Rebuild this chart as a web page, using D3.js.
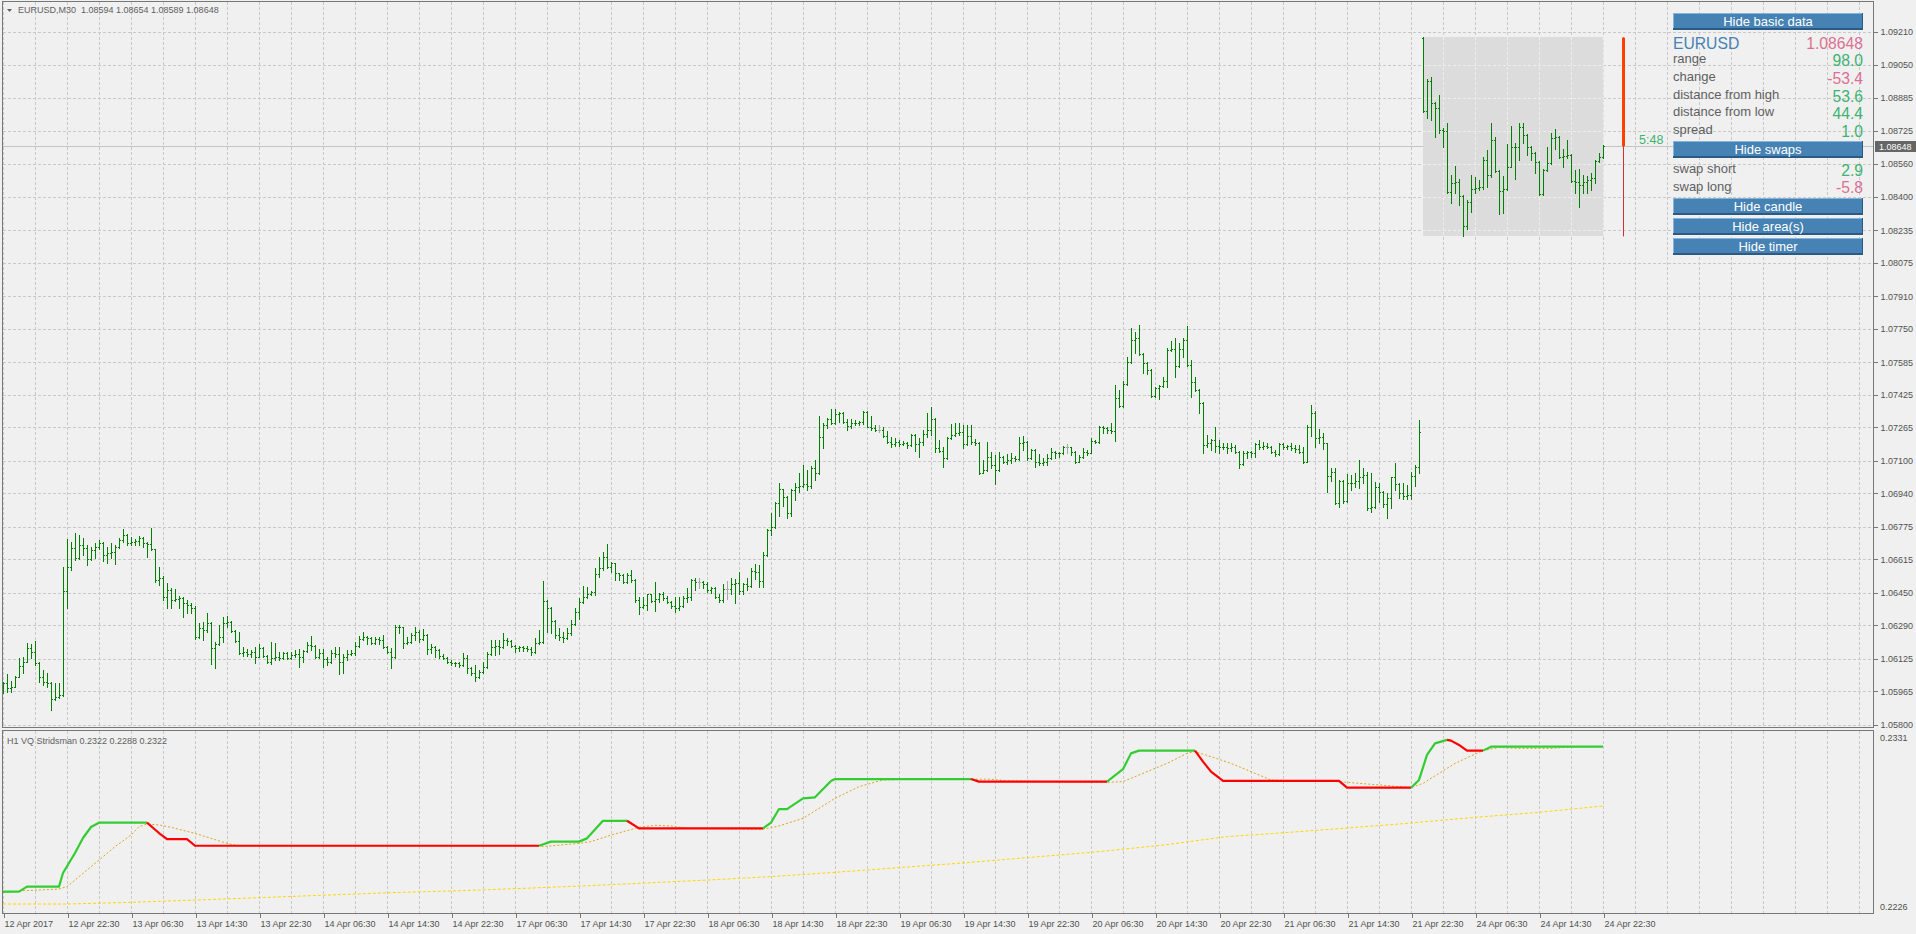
<!DOCTYPE html>
<html>
<head>
<meta charset="utf-8">
<script src="https://cdn.jsdelivr.net/npm/d3@7"></script>
<style>
html, body { margin: 0; padding: 0; background: #f0f0f0; overflow: hidden; }
svg { display: block; font-family: "Liberation Sans", Arial, sans-serif; }
</style>
</head>
<body>
<svg id="chart" width="1916" height="934"></svg>
<script>
// EURUSD M30 bars, [open, high, low, close], first bar = 12 Apr 2017 14:30
var symbol = "EURUSD", period = "M30";
var bars = [
[1.05995,1.06013,1.05959,1.06005],[1.06005,1.06051,1.05964,1.05980],[1.05980,1.06016,1.05964,1.05989],[1.05989,1.06041,1.05989,1.06038],
[1.06038,1.06128,1.06038,1.06090],[1.06090,1.06136,1.06057,1.06112],[1.06112,1.06205,1.06112,1.06177],[1.06177,1.06199,1.06128,1.06161],
[1.06161,1.06213,1.06095,1.06107],[1.06107,1.06108,1.06013,1.06038],[1.06038,1.06071,1.05997,1.06013],[1.06013,1.06054,1.05989,1.06008],
[1.06008,1.06012,1.05874,1.05926],[1.05926,1.06005,1.05923,1.05939],[1.05939,1.06005,1.05935,1.05948],[1.05948,1.06579,1.05945,1.06459],
[1.06459,1.06713,1.06374,1.06579],[1.06579,1.06702,1.06563,1.06672],[1.06672,1.06746,1.06612,1.06620],[1.06620,1.06735,1.06615,1.06686],
[1.06686,1.06718,1.06636,1.06669],[1.06669,1.06686,1.06587,1.06615],[1.06615,1.06677,1.06612,1.06661],[1.06661,1.06694,1.06620,1.06677],
[1.06677,1.06710,1.06664,1.06697],[1.06697,1.06702,1.06609,1.06636],[1.06636,1.06677,1.06595,1.06648],[1.06648,1.06694,1.06620,1.06653],
[1.06653,1.06686,1.06590,1.06677],[1.06677,1.06718,1.06672,1.06710],[1.06710,1.06764,1.06702,1.06735],[1.06735,1.06740,1.06686,1.06694],
[1.06694,1.06727,1.06686,1.06702],[1.06702,1.06713,1.06686,1.06707],[1.06707,1.06730,1.06686,1.06718],[1.06718,1.06727,1.06677,1.06694],
[1.06694,1.06699,1.06628,1.06689],[1.06689,1.06768,1.06661,1.06664],[1.06664,1.06668,1.06505,1.06513],[1.06513,1.06579,1.06489,1.06522],
[1.06522,1.06533,1.06415,1.06431],[1.06431,1.06497,1.06374,1.06464],[1.06464,1.06472,1.06374,1.06415],[1.06415,1.06467,1.06410,1.06418],
[1.06418,1.06435,1.06374,1.06423],[1.06423,1.06431,1.06333,1.06399],[1.06399,1.06415,1.06349,1.06390],[1.06390,1.06402,1.06349,1.06374],
[1.06374,1.06386,1.06221,1.06235],[1.06235,1.06300,1.06230,1.06276],[1.06276,1.06308,1.06218,1.06267],[1.06267,1.06349,1.06259,1.06300],
[1.06300,1.06305,1.06098,1.06177],[1.06177,1.06210,1.06079,1.06199],[1.06199,1.06292,1.06194,1.06235],[1.06235,1.06333,1.06210,1.06300],
[1.06300,1.06336,1.06284,1.06308],[1.06308,1.06312,1.06259,1.06262],[1.06262,1.06266,1.06210,1.06213],[1.06213,1.06256,1.06148,1.06153],
[1.06153,1.06185,1.06139,1.06161],[1.06161,1.06172,1.06139,1.06149],[1.06149,1.06169,1.06136,1.06161],[1.06161,1.06185,1.06107,1.06136],
[1.06136,1.06199,1.06133,1.06177],[1.06177,1.06185,1.06136,1.06139],[1.06139,1.06144,1.06103,1.06112],[1.06112,1.06208,1.06100,1.06128],
[1.06128,1.06202,1.06120,1.06136],[1.06136,1.06161,1.06120,1.06128],[1.06128,1.06161,1.06123,1.06153],[1.06153,1.06161,1.06123,1.06128],
[1.06128,1.06161,1.06125,1.06144],[1.06144,1.06169,1.06136,1.06149],[1.06149,1.06172,1.06087,1.06136],[1.06136,1.06169,1.06112,1.06166],
[1.06166,1.06210,1.06161,1.06194],[1.06194,1.06238,1.06169,1.06189],[1.06189,1.06192,1.06128,1.06136],[1.06136,1.06172,1.06131,1.06153],
[1.06153,1.06172,1.06087,1.06123],[1.06123,1.06136,1.06095,1.06112],[1.06112,1.06169,1.06103,1.06153],[1.06153,1.06182,1.06136,1.06149],
[1.06149,1.06182,1.06049,1.06112],[1.06112,1.06149,1.06057,1.06136],[1.06136,1.06169,1.06120,1.06149],[1.06149,1.06169,1.06144,1.06156],
[1.06156,1.06210,1.06144,1.06189],[1.06189,1.06238,1.06185,1.06221],[1.06221,1.06259,1.06218,1.06235],[1.06235,1.06238,1.06199,1.06226],
[1.06226,1.06235,1.06199,1.06205],[1.06205,1.06231,1.06199,1.06221],[1.06221,1.06235,1.06199,1.06218],[1.06218,1.06243,1.06177,1.06185],
[1.06185,1.06190,1.06156,1.06161],[1.06161,1.06177,1.06079,1.06133],[1.06133,1.06292,1.06128,1.06284],[1.06284,1.06292,1.06254,1.06280],
[1.06280,1.06284,1.06177,1.06202],[1.06202,1.06235,1.06197,1.06210],[1.06210,1.06251,1.06205,1.06243],[1.06243,1.06280,1.06218,1.06259],
[1.06259,1.06267,1.06210,1.06221],[1.06221,1.06271,1.06216,1.06243],[1.06243,1.06248,1.06149,1.06174],[1.06174,1.06199,1.06153,1.06185],
[1.06185,1.06190,1.06136,1.06169],[1.06169,1.06174,1.06128,1.06139],[1.06139,1.06149,1.06123,1.06128],[1.06128,1.06136,1.06107,1.06112],
[1.06112,1.06120,1.06095,1.06107],[1.06107,1.06112,1.06090,1.06103],[1.06103,1.06112,1.06087,1.06097],[1.06097,1.06156,1.06090,1.06128],
[1.06128,1.06144,1.06057,1.06079],[1.06079,1.06084,1.06046,1.06054],[1.06054,1.06095,1.06018,1.06038],[1.06038,1.06071,1.06030,1.06062],
[1.06062,1.06112,1.06058,1.06087],[1.06087,1.06161,1.06082,1.06149],[1.06149,1.06218,1.06144,1.06185],[1.06185,1.06218,1.06144,1.06189],
[1.06189,1.06218,1.06149,1.06185],[1.06185,1.06251,1.06180,1.06218],[1.06218,1.06226,1.06194,1.06212],[1.06212,1.06218,1.06185,1.06189],
[1.06189,1.06194,1.06161,1.06177],[1.06177,1.06189,1.06166,1.06182],[1.06182,1.06189,1.06166,1.06177],[1.06177,1.06189,1.06166,1.06172],
[1.06172,1.06185,1.06144,1.06161],[1.06161,1.06226,1.06153,1.06202],[1.06202,1.06267,1.06197,1.06210],[1.06210,1.06508,1.06202,1.06410],
[1.06410,1.06415,1.06259,1.06374],[1.06374,1.06380,1.06251,1.06313],[1.06313,1.06318,1.06226,1.06242],[1.06242,1.06275,1.06218,1.06234],
[1.06234,1.06259,1.06210,1.06226],[1.06226,1.06275,1.06222,1.06251],[1.06251,1.06316,1.06242,1.06295],[1.06295,1.06374,1.06292,1.06354],
[1.06354,1.06423,1.06324,1.06406],[1.06406,1.06484,1.06400,1.06431],[1.06431,1.06477,1.06423,1.06447],[1.06447,1.06460,1.06439,1.06454],
[1.06454,1.06571,1.06439,1.06543],[1.06543,1.06628,1.06529,1.06575],[1.06575,1.06652,1.06562,1.06628],[1.06628,1.06693,1.06571,1.06576],
[1.06576,1.06603,1.06554,1.06595],[1.06595,1.06597,1.06513,1.06546],[1.06546,1.06549,1.06513,1.06538],[1.06538,1.06542,1.06500,1.06505],
[1.06505,1.06546,1.06500,1.06538],[1.06538,1.06565,1.06505,1.06513],[1.06513,1.06518,1.06406,1.06415],[1.06415,1.06431,1.06344,1.06382],
[1.06382,1.06431,1.06374,1.06390],[1.06390,1.06447,1.06365,1.06444],[1.06444,1.06447,1.06406,1.06411],[1.06411,1.06505,1.06362,1.06418],
[1.06418,1.06450,1.06406,1.06445],[1.06445,1.06452,1.06415,1.06423],[1.06423,1.06434,1.06398,1.06406],[1.06406,1.06410,1.06374,1.06385],
[1.06385,1.06431,1.06357,1.06374],[1.06374,1.06431,1.06365,1.06385],[1.06385,1.06434,1.06382,1.06423],[1.06423,1.06472,1.06406,1.06431],
[1.06431,1.06516,1.06415,1.06513],[1.06513,1.06521,1.06464,1.06505],[1.06505,1.06521,1.06472,1.06505],[1.06505,1.06510,1.06472,1.06493],
[1.06493,1.06505,1.06456,1.06464],[1.06464,1.06480,1.06451,1.06472],[1.06472,1.06480,1.06423,1.06431],[1.06431,1.06447,1.06406,1.06415],
[1.06415,1.06493,1.06406,1.06467],[1.06467,1.06510,1.06418,1.06467],[1.06467,1.06521,1.06447,1.06493],[1.06493,1.06516,1.06401,1.06497],
[1.06497,1.06554,1.06447,1.06460],[1.06460,1.06500,1.06447,1.06493],[1.06493,1.06521,1.06464,1.06484],[1.06484,1.06575,1.06480,1.06559],
[1.06559,1.06592,1.06516,1.06554],[1.06554,1.06587,1.06480,1.06510],[1.06510,1.06652,1.06480,1.06636],[1.06636,1.06765,1.06630,1.06758],
[1.06758,1.06844,1.06734,1.06772],[1.06772,1.06898,1.06770,1.06890],[1.06890,1.06992,1.06828,1.06959],[1.06959,1.06962,1.06877,1.06923],
[1.06923,1.06928,1.06821,1.06841],[1.06841,1.06962,1.06828,1.06956],[1.06956,1.06989,1.06907,1.06972],[1.06972,1.07041,1.06948,1.06976],
[1.06976,1.07079,1.06972,1.06985],[1.06985,1.07057,1.06956,1.06976],[1.06976,1.07074,1.06964,1.07067],[1.07067,1.07103,1.07008,1.07038],
[1.07038,1.07320,1.07033,1.07215],[1.07215,1.07284,1.07161,1.07276],[1.07276,1.07313,1.07259,1.07304],[1.07304,1.07353,1.07281,1.07287],
[1.07287,1.07353,1.07281,1.07330],[1.07330,1.07341,1.07292,1.07333],[1.07333,1.07338,1.07287,1.07292],[1.07292,1.07308,1.07254,1.07271],
[1.07271,1.07308,1.07259,1.07287],[1.07287,1.07300,1.07276,1.07284],[1.07284,1.07297,1.07276,1.07289],[1.07289,1.07346,1.07281,1.07341],
[1.07341,1.07346,1.07264,1.07267],[1.07267,1.07320,1.07254,1.07259],[1.07259,1.07276,1.07248,1.07251],[1.07251,1.07276,1.07243,1.07251],
[1.07251,1.07267,1.07218,1.07221],[1.07221,1.07248,1.07189,1.07194],[1.07194,1.07215,1.07169,1.07185],[1.07185,1.07210,1.07172,1.07194],
[1.07194,1.07202,1.07172,1.07182],[1.07182,1.07199,1.07177,1.07187],[1.07187,1.07194,1.07161,1.07177],[1.07177,1.07231,1.07172,1.07226],
[1.07226,1.07231,1.07149,1.07185],[1.07185,1.07210,1.07120,1.07194],[1.07194,1.07254,1.07177,1.07231],[1.07231,1.07336,1.07218,1.07251],
[1.07251,1.07366,1.07226,1.07304],[1.07304,1.07310,1.07144,1.07161],[1.07161,1.07202,1.07144,1.07149],[1.07149,1.07169,1.07071,1.07112],
[1.07112,1.07215,1.07107,1.07210],[1.07210,1.07281,1.07205,1.07226],[1.07226,1.07287,1.07221,1.07235],[1.07235,1.07287,1.07226,1.07240],
[1.07240,1.07276,1.07161,1.07182],[1.07182,1.07276,1.07177,1.07221],[1.07221,1.07276,1.07185,1.07194],[1.07194,1.07205,1.07177,1.07189],
[1.07189,1.07194,1.07034,1.07041],[1.07041,1.07103,1.07038,1.07054],[1.07054,1.07194,1.07050,1.07120],[1.07120,1.07144,1.07067,1.07079],
[1.07079,1.07128,1.06985,1.07057],[1.07057,1.07144,1.07052,1.07117],[1.07117,1.07123,1.07090,1.07095],[1.07095,1.07133,1.07084,1.07103],
[1.07103,1.07136,1.07087,1.07112],[1.07112,1.07125,1.07101,1.07107],[1.07107,1.07216,1.07104,1.07189],[1.07189,1.07222,1.07153,1.07194],
[1.07194,1.07197,1.07104,1.07112],[1.07112,1.07156,1.07108,1.07153],[1.07153,1.07158,1.07068,1.07096],[1.07096,1.07134,1.07079,1.07088],
[1.07088,1.07112,1.07079,1.07096],[1.07096,1.07134,1.07079,1.07112],[1.07112,1.07161,1.07108,1.07145],[1.07145,1.07150,1.07112,1.07140],
[1.07140,1.07145,1.07120,1.07137],[1.07137,1.07173,1.07134,1.07166],[1.07166,1.07183,1.07140,1.07166],[1.07166,1.07170,1.07129,1.07145],
[1.07145,1.07150,1.07088,1.07096],[1.07096,1.07129,1.07092,1.07120],[1.07120,1.07161,1.07116,1.07145],[1.07145,1.07153,1.07129,1.07140],
[1.07140,1.07211,1.07136,1.07199],[1.07199,1.07202,1.07186,1.07194],[1.07194,1.07271,1.07186,1.07265],[1.07265,1.07271,1.07238,1.07260],
[1.07260,1.07268,1.07238,1.07252],[1.07252,1.07284,1.07238,1.07247],[1.07247,1.07473,1.07199,1.07407],[1.07407,1.07448,1.07363,1.07370],
[1.07370,1.07494,1.07366,1.07478],[1.07478,1.07612,1.07473,1.07588],[1.07588,1.07752,1.07583,1.07694],[1.07694,1.07735,1.07632,1.07703],
[1.07703,1.07768,1.07621,1.07626],[1.07626,1.07632,1.07530,1.07580],[1.07580,1.07585,1.07527,1.07547],[1.07547,1.07552,1.07416,1.07420],
[1.07420,1.07465,1.07412,1.07457],[1.07457,1.07473,1.07402,1.07468],[1.07468,1.07514,1.07465,1.07494],[1.07494,1.07653,1.07465,1.07645],
[1.07645,1.07691,1.07642,1.07648],[1.07648,1.07703,1.07514,1.07566],[1.07566,1.07678,1.07563,1.07648],[1.07648,1.07703,1.07612,1.07694],
[1.07694,1.07763,1.07566,1.07570],[1.07570,1.07596,1.07416,1.07489],[1.07489,1.07514,1.07445,1.07448],[1.07448,1.07453,1.07337,1.07386],
[1.07386,1.07391,1.07140,1.07178],[1.07178,1.07227,1.07166,1.07186],[1.07186,1.07206,1.07153,1.07202],[1.07202,1.07265,1.07145,1.07173],
[1.07173,1.07202,1.07140,1.07166],[1.07166,1.07189,1.07156,1.07170],[1.07170,1.07186,1.07137,1.07161],[1.07161,1.07189,1.07150,1.07166],
[1.07166,1.07178,1.07137,1.07145],[1.07145,1.07150,1.07063,1.07084],[1.07084,1.07150,1.07079,1.07140],[1.07140,1.07150,1.07112,1.07145],
[1.07145,1.07150,1.07117,1.07137],[1.07137,1.07186,1.07117,1.07183],[1.07183,1.07202,1.07156,1.07170],[1.07170,1.07194,1.07156,1.07173],
[1.07173,1.07186,1.07161,1.07170],[1.07170,1.07175,1.07137,1.07145],[1.07145,1.07153,1.07124,1.07134],[1.07134,1.07189,1.07129,1.07183],
[1.07183,1.07189,1.07156,1.07166],[1.07166,1.07178,1.07156,1.07173],[1.07173,1.07189,1.07153,1.07161],[1.07161,1.07178,1.07145,1.07156],
[1.07156,1.07178,1.07140,1.07145],[1.07145,1.07170,1.07091,1.07096],[1.07096,1.07276,1.07092,1.07268],[1.07268,1.07375,1.07222,1.07337],
[1.07337,1.07347,1.07166,1.07211],[1.07211,1.07255,1.07189,1.07219],[1.07219,1.07235,1.07156,1.07186],[1.07186,1.07189,1.06948,1.07025],
[1.07025,1.07063,1.07002,1.07047],[1.07047,1.07063,1.06887,1.06894],[1.06894,1.07006,1.06871,1.07002],[1.07002,1.07006,1.06894,1.06904],
[1.06904,1.07035,1.06899,1.06989],[1.06989,1.07030,1.06956,1.06992],[1.06992,1.07038,1.06973,1.07002],[1.07002,1.07104,1.06965,1.07022],
[1.07022,1.07063,1.06989,1.07030],[1.07030,1.07047,1.06858,1.06866],[1.06866,1.07042,1.06850,1.06871],[1.06871,1.06997,1.06868,1.06970],
[1.06970,1.06989,1.06899,1.06948],[1.06948,1.06953,1.06874,1.06887],[1.06887,1.06940,1.06817,1.06915],[1.06915,1.07022,1.06866,1.07020],
[1.07020,1.07091,1.06956,1.06986],[1.06986,1.06992,1.06915,1.06940],[1.06940,1.06989,1.06910,1.06927],[1.06927,1.06981,1.06910,1.06932],
[1.06932,1.07047,1.06910,1.07025],[1.07025,1.07079,1.06976,1.07071],[1.07071,1.07301,1.07038,1.07243],
[1.09182,1.09184,1.08815,1.08822],[1.08822,1.08977,1.08785,1.08969],[1.08969,1.08987,1.08777,1.08859],[1.08859,1.08867,1.08692,1.08834],
[1.08834,1.08900,1.08711,1.08728],[1.08728,1.08736,1.08642,1.08722],[1.08722,1.08761,1.08419,1.08424],[1.08424,1.08506,1.08367,1.08465],
[1.08465,1.08551,1.08416,1.08470],[1.08470,1.08485,1.08359,1.08403],[1.08403,1.08408,1.08204,1.08256],[1.08256,1.08383,1.08239,1.08375],
[1.08375,1.08506,1.08326,1.08436],[1.08436,1.08498,1.08416,1.08440],[1.08440,1.08482,1.08433,1.08445],[1.08445,1.08597,1.08436,1.08580],
[1.08580,1.08629,1.08449,1.08506],[1.08506,1.08764,1.08498,1.08679],[1.08679,1.08692,1.08523,1.08528],[1.08528,1.08531,1.08315,1.08429],
[1.08429,1.08502,1.08321,1.08436],[1.08436,1.08659,1.08432,1.08547],[1.08547,1.08747,1.08544,1.08646],[1.08646,1.08665,1.08485,1.08642],
[1.08642,1.08764,1.08580,1.08741],[1.08741,1.08764,1.08662,1.08703],[1.08703,1.08708,1.08605,1.08646],[1.08646,1.08649,1.08580,1.08616],
[1.08616,1.08621,1.08515,1.08572],[1.08572,1.08576,1.08408,1.08413],[1.08413,1.08535,1.08408,1.08531],[1.08531,1.08646,1.08528,1.08567],
[1.08567,1.08715,1.08562,1.08687],[1.08687,1.08731,1.08633,1.08692],[1.08692,1.08698,1.08588,1.08597],[1.08597,1.08633,1.08544,1.08600],
[1.08600,1.08679,1.08588,1.08605],[1.08605,1.08610,1.08474,1.08479],[1.08479,1.08531,1.08419,1.08474],[1.08474,1.08535,1.08347,1.08457],
[1.08457,1.08506,1.08419,1.08474],[1.08474,1.08502,1.08419,1.08482],[1.08482,1.08515,1.08433,1.08490],[1.08490,1.08580,1.08469,1.08577],
[1.08577,1.08616,1.08572,1.08594],[1.08594,1.08654,1.08589,1.08648]
];
var dayFirstBar = 355;   // 24 Apr 00:00
var candleBar = 405;     // where the day candle is drawn

var timeLabels = ["12 Apr 2017","12 Apr 22:30","13 Apr 06:30","13 Apr 14:30","13 Apr 22:30","14 Apr 06:30",
  "14 Apr 14:30","14 Apr 22:30","17 Apr 06:30","17 Apr 14:30","17 Apr 22:30","18 Apr 06:30","18 Apr 14:30",
  "18 Apr 22:30","19 Apr 06:30","19 Apr 14:30","19 Apr 22:30","20 Apr 06:30","20 Apr 14:30","20 Apr 22:30",
  "21 Apr 06:30","21 Apr 14:30","21 Apr 22:30","24 Apr 06:30","24 Apr 14:30","24 Apr 22:30"];
var priceTicks = [1.09210,1.09050,1.08885,1.08725,1.08560,1.08400,1.08235,1.08075,1.07910,1.07750,1.07585,
  1.07425,1.07265,1.07100,1.06940,1.06775,1.06615,1.06450,1.06290,1.06125,1.05965,1.05800];

// H1 VQ Stridsman: main line (green up / red down), signal, slow line
var stridsIdx = [0,4,6,14,15,18,20,22,24,36,39,41,46,48,134,137,144,146,150,156,159,190,192,194,196,200,203,207,208,242,
  244,276,280,282,284,298,300,302,305,334,336,352,354,356,358,361,362,364,366,370,372,400];
var stridsVal = [0.22384,0.22384,0.22413,0.22413,0.22492,0.22608,0.22695,0.22759,0.22784,0.22784,
  0.22724,0.22689,0.22689,0.22650,0.22650,0.22674,0.22674,0.22693,0.22795,0.22795,0.22751,0.22751,
  0.22784,0.22863,0.22863,0.22925,0.22931,0.23026,0.23037,0.23037,0.23022,0.23022,0.23094,0.23186,0.23202,0.23202,
  0.23138,0.23080,0.23027,0.23026,0.22987,0.22987,0.23032,0.23177,0.23244,0.23264,0.23260,0.23235,0.23202,0.23202,
  0.23225,0.23225];
var stridsUp = [1,1,1,1,1,1,1,1,1,1, 0,0,0,0,0, 1,1,1,1,1, 0,0, 1,1,1,1,1,1,1,1, 0,0, 1,1,1,1,
  0,0,0,0,0,0, 1,1,1,1, 0,0,0,0, 1,1];
var signalIdx = [0,5,14,16,20,24,28,32,34,36,39,42,48,52,56,59,134,135,144,147,152,159,163,167,171,190,194,200,204,208,
  214,220,229,247,251,262,276,280,285,291,296,298,302,307,312,317,324,334,336,344,349,352,355,359,363,367,370,374,379,387,392,400];
var signalVal = [0.22378,0.22389,0.22399,0.22413,0.22490,0.22567,0.22645,0.22712,0.22761,0.22776,
  0.22771,0.22757,0.22722,0.22693,0.22664,0.22650,0.22650,0.22645,0.22664,0.22674,
  0.22712,0.22757,0.22769,0.22765,0.22751,0.22746,0.22765,0.22809,0.22867,0.22925,
  0.22993,0.23032,0.23037,0.23036,0.23027,0.23022,0.23018,0.23022,0.23070,0.23128,
  0.23186,0.23196,0.23167,0.23128,0.23080,0.23032,0.23026,0.23022,0.23018,0.23003,
  0.22993,0.22987,0.23012,0.23070,0.23128,0.23171,0.23202,0.23220,0.23215,0.23215,0.23223,0.23225];
var slowIdx = [0,16,32,48,64,81,97,114,130,146,159,176,192,208,225,241,257,274,290,306,318,335,351,367,384,400];
var slowVal = [0.22312,0.22312,0.22322,0.22335,0.22349,0.22364,0.22378,0.22389,0.22403,0.22418,0.22432,0.22451,
  0.22471,0.22496,0.22525,0.22552,0.22583,0.22616,0.22654,0.22703,0.22722,0.22751,0.22780,0.22813,0.22844,0.22881];
var indName = "H1 VQ Stridsman";
var indLast = ["0.2322","0.2288","0.2322"];
var indTicks = [0.2331, 0.2226];

// info panel
var buttonLabels = ["Hide basic data","Hide swaps","Hide candle","Hide area(s)","Hide timer"];
var infoLabels = ["range","change","distance from high","distance from low","spread"];
var infoValues = ["98.0","-53.4","53.6","44.4","1.0"];
var swapLabels = ["swap short","swap long"];
var swapValues = ["2.9","-5.8"];
var timerText = "5:48";

var svg = d3.select("#chart");
var W = 1916,
    left = 2, right = 1873,
    mainTop = 2, mainBottom = 727,
    indTop = 730, indBottom = 913;

var x = d3.scaleLinear().domain([0, 400]).range([3, 1603]);
var y = d3.scaleLinear().domain([1.05800, 1.09210]).range([725, 32]);
var yi = d3.scaleLinear().domain([0.2226, 0.2331]).range([913, 732]);

var green = "#3cb371", pink = "#db7093", txt = "#505050";

svg.append("rect").attr("width", W).attr("height", 934).attr("fill", "#f0f0f0");

var last = bars[bars.length - 1];
var dayBars = bars.slice(dayFirstBar);
var dayHigh = d3.max(dayBars, function(d) { return d[1]; });
var dayLow = d3.min(dayBars, function(d) { return d[2]; });
var dayOpen = dayBars[0][0];

// current price line
svg.append("line")
    .attr("x1", left + 1).attr("x2", right)
    .attr("y1", Math.round(y(last[3])) + 0.5).attr("y2", Math.round(y(last[3])) + 0.5)
    .attr("stroke", "#c4c4c4").attr("shape-rendering", "crispEdges");

// day area box
var boxX = Math.round(x(dayFirstBar)), boxW = Math.round(x(400)) + 1 - boxX,
    boxY = Math.round(y(dayHigh)), boxH = Math.round(y(dayLow)) - boxY;
svg.append("rect").attr("x", boxX).attr("y", boxY).attr("width", boxW).attr("height", boxH)
    .attr("fill", "#dcdcdc");
svg.append("clipPath").attr("id", "boxclip").append("rect")
    .attr("x", boxX).attr("y", boxY).attr("width", boxW).attr("height", boxH);

function drawGrid(g, color) {
    var vIdx = d3.range(0, 470, 8).filter(function(i) { return x(i) < right; });
    g.selectAll("line.v").data(vIdx).join("line")
	.attr("x1", function(i) { return Math.round(x(i)) + 0.5; })
	.attr("x2", function(i) { return Math.round(x(i)) + 0.5; })
	.attr("y1", mainTop).attr("y2", mainBottom);
    g.selectAll("line.vi").data(vIdx).join("line")
	.attr("x1", function(i) { return Math.round(x(i)) + 0.5; })
	.attr("x2", function(i) { return Math.round(x(i)) + 0.5; })
	.attr("y1", indTop + 1).attr("y2", indBottom);
    g.selectAll("line.h").data(priceTicks).join("line")
	.attr("x1", left + 1).attr("x2", right)
	.attr("y1", function(d) { return Math.round(y(d)) + 0.5; })
	.attr("y2", function(d) { return Math.round(y(d)) + 0.5; });
    g.selectAll("line")
	.attr("stroke", color).attr("stroke-dasharray", "3,2").attr("shape-rendering", "crispEdges");
}
var grid = svg.append("g");
drawGrid(grid, "#c9c9c9");
var grid2 = svg.append("g").attr("clip-path", "url(#boxclip)");
drawGrid(grid2, "#ededed");

// OHLC bars
svg.append("g").selectAll("path").data(bars).join("path")
    .attr("d", function(d, i) {
	var xi = Math.round(x(i)),
	    yo = Math.round(y(d[0])), yh = Math.round(y(d[1])),
	    yl = Math.round(y(d[2])), yc = Math.round(y(d[3]));
	return "M" + (xi + 0.5) + "," + yh + "V" + (yl + 1) +
	    "M" + (xi - 1) + "," + (yo + 0.5) + "H" + xi +
	    "M" + (xi + 1) + "," + (yc + 0.5) + "H" + (xi + 2);
    })
    .attr("fill", "none")
    .attr("stroke", function(d) { return d[0] === d[3] ? "#a8a8a8" : "#007f00"; })
    .attr("shape-rendering", "crispEdges");

// day candle
var cx = Math.round(x(candleBar));
svg.append("line").attr("x1", cx + 0.5).attr("x2", cx + 0.5)
    .attr("y1", y(dayHigh)).attr("y2", y(dayLow))
    .attr("stroke", "#d23030").attr("stroke-width", 1);
svg.append("rect").attr("x", cx - 1).attr("width", 3)
    .attr("y", y(dayOpen)).attr("height", y(last[3]) - y(dayOpen))
    .attr("fill", last[3] < dayOpen ? "#ff4000" : "#32cd32");
svg.append("text").attr("x", cx + 16).attr("y", y(last[3]) - 2)
    .attr("font-size", 12.5).attr("fill", green).text(timerText);

// indicator lines
var lineI = d3.line()
    .x(function(d) { return x(d[0]); })
    .y(function(d) { return yi(d[1]); });
svg.append("path")
    .datum(slowIdx.map(function(i, k) { return [i, slowVal[k]]; }))
    .attr("fill", "none").attr("stroke", "#ffd700").attr("stroke-width", 1)
    .attr("stroke-dasharray", "3,2").attr("d", lineI);
svg.append("path")
    .datum(signalIdx.map(function(i, k) { return [i, signalVal[k]]; }))
    .attr("fill", "none").attr("stroke", "#daa520").attr("stroke-width", 1)
    .attr("stroke-dasharray", "2,2").attr("d", lineI);

var runs = [];
for (var k = 1; k < stridsIdx.length; k++) {
    var pt = [stridsIdx[k], stridsVal[k]];
    var lastRun = runs[runs.length - 1];
    if (lastRun && lastRun.up === stridsUp[k]) lastRun.pts.push(pt);
    else runs.push({ up: stridsUp[k], pts: [[stridsIdx[k - 1], stridsVal[k - 1]], pt] });
}
svg.append("g").selectAll("path").data(runs).join("path")
    .attr("fill", "none")
    .attr("stroke", function(r) { return r.up ? "#32cd32" : "#ff0000"; })
    .attr("stroke-width", 2.2)
    .attr("stroke-linejoin", "round")
    .attr("d", function(r) { return lineI(r.pts); });

// frames
svg.append("rect").attr("x", left + 0.5).attr("y", mainTop - 0.5)
    .attr("width", right - left).attr("height", mainBottom - mainTop + 1)
    .attr("fill", "none").attr("stroke", "#777").attr("shape-rendering", "crispEdges");
svg.append("rect").attr("x", left + 0.5).attr("y", indTop + 0.5)
    .attr("width", right - left).attr("height", indBottom - indTop)
    .attr("fill", "none").attr("stroke", "#777").attr("shape-rendering", "crispEdges");

// price axis
var yAxis = svg.append("g")
    .attr("transform", "translate(" + (right + 0.5) + ",0)")
    .call(d3.axisRight(y).tickValues(priceTicks).tickFormat(d3.format(".5f")).tickSize(4).tickPadding(3));
yAxis.select(".domain").remove();
yAxis.selectAll("line").attr("stroke", "#777").attr("shape-rendering", "crispEdges");
yAxis.selectAll("text").attr("fill", txt).attr("font-size", 9).attr("font-family", "Liberation Sans, Arial, sans-serif");

// current price label
var py = Math.round(y(last[3]));
svg.append("rect").attr("x", right + 2).attr("y", py - 5).attr("width", W - right - 2).attr("height", 11)
    .attr("fill", "#666");
svg.append("text").attr("x", right + 6).attr("y", py + 3.5)
    .attr("font-size", 9).attr("fill", "#fff").text(last[3].toFixed(5));

// indicator axis labels
svg.append("g").selectAll("text").data(indTicks).join("text")
    .attr("x", right + 7)
    .attr("y", function(d, i) { return i === 0 ? yi(d) + 9 : yi(d) - 3; })
    .attr("font-size", 9).attr("fill", txt)
    .text(function(d) { return d.toFixed(4); });

// time axis
var xAxis = svg.append("g")
    .attr("transform", "translate(0," + (indBottom + 0.5) + ")")
    .call(d3.axisBottom(x).tickValues(d3.range(0, 401, 16))
	  .tickFormat(function(d, i) { return timeLabels[i]; }).tickSize(4).tickPadding(3));
xAxis.select(".domain").remove();
xAxis.selectAll("line").attr("stroke", "#777").attr("transform", "translate(0.5,0)")
    .attr("shape-rendering", "crispEdges");
xAxis.selectAll("text").attr("fill", txt).attr("font-size", 9)
    .attr("font-family", "Liberation Sans, Arial, sans-serif")
    .attr("text-anchor", "start").attr("x", 1);

// header and indicator name
svg.append("path").attr("d", "M7,9L12,9L9.5,12Z").attr("fill", "#606060");
svg.append("text").attr("x", 18).attr("y", 13).attr("font-size", 9).attr("fill", "#606060")
    .style("white-space", "pre")
    .text(symbol + "," + period + "  " + last.map(function(v) { return v.toFixed(5); }).join(" "));
svg.append("text").attr("x", 7).attr("y", 744).attr("font-size", 9).attr("fill", "#606060")
    .text(indName + " " + indLast.join(" "));

// info panel
var px0 = 1673, px1 = 1863;
var buttonTops = [13, 141, 198, 218, 238];
var btn = svg.append("g").selectAll("g").data(buttonLabels).join("g")
    .attr("transform", function(d, i) { return "translate(" + px0 + "," + buttonTops[i] + ")"; });
btn.append("rect").attr("width", px1 - px0).attr("height", 17).attr("fill", "#4682b4");
btn.append("rect").attr("width", px1 - px0).attr("height", 1).attr("fill", "#86b3dc");
btn.append("rect").attr("width", 1).attr("height", 17).attr("fill", "#86b3dc");
btn.append("rect").attr("y", 15).attr("width", px1 - px0).attr("height", 2).attr("fill", "#2b5a85");
btn.append("rect").attr("x", px1 - px0 - 1).attr("width", 1).attr("height", 17).attr("fill", "#2b5a85");
btn.append("text").attr("x", (px1 - px0) / 2).attr("y", 13).attr("text-anchor", "middle")
    .attr("font-size", 13).attr("fill", "#fff").text(function(d) { return d; });

svg.append("text").attr("x", px0).attr("y", 48.5).attr("font-size", 15.7).attr("fill", "#4682b4").text(symbol);
svg.append("text").attr("x", px1).attr("y", 48.5).attr("font-size", 15.7).attr("fill", pink)
    .attr("text-anchor", "end").text(last[3].toFixed(5));

function infoRows(labels, values, y0) {
    var g = svg.append("g");
    g.selectAll("text.l").data(labels).join("text")
	.attr("x", px0).attr("y", function(d, i) { return y0 + i * 17.7; })
	.attr("font-size", 13).attr("fill", "#5f5f5f").text(function(d) { return d; });
    g.selectAll("text.v").data(values).join("text")
	.attr("x", px1).attr("y", function(d, i) { return y0 + 2.8 + i * 17.7; })
	.attr("text-anchor", "end").attr("font-size", 15.7)
	.attr("fill", function(d) { return +d < 0 ? pink : green; })
	.text(function(d) { return d; });
}
infoRows(infoLabels, infoValues, 63.3);
infoRows(swapLabels, swapValues, 172.8);
</script>
</body>
</html>
